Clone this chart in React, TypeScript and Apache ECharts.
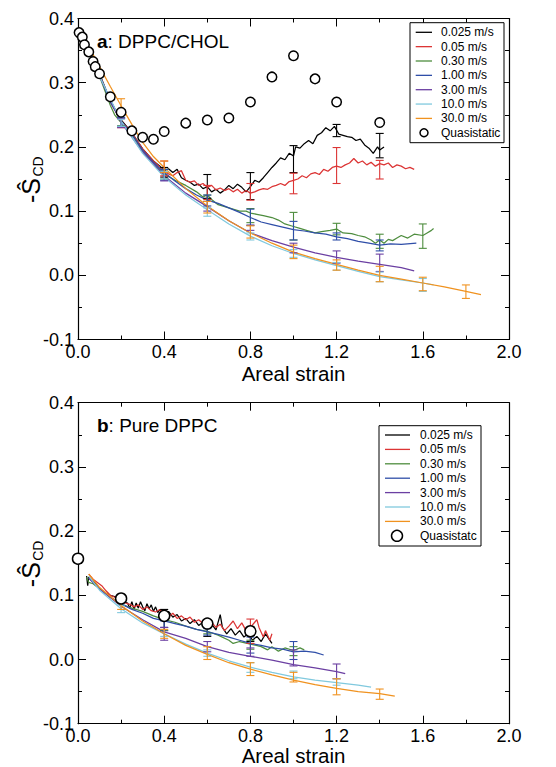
import React, { useEffect, useRef } from "react";
import * as echarts from "echarts";

const FONT = '"Liberation Sans", Arial, Helvetica, sans-serif';

const speedNames = ["0.025 m/s", "0.05 m/s", "0.30 m/s", "1.00 m/s", "3.00 m/s", "10.0 m/s", "30.0 m/s"];
const colors = ["#000000", "#dc3535", "#4e8d3e", "#2f4ea8", "#6b3fa2", "#80c9de", "#f0921f"];
const xTicks = [0, 0.4, 0.8, 1.2, 1.6, 2.0];
const yTicks = [-0.1, 0.0, 0.1, 0.2, 0.3, 0.4];

// ---------- Panel a: DPPC/CHOL ----------
const aQuasi = [
  [0.005, 0.378], [0.02, 0.371], [0.03, 0.359], [0.05, 0.348], [0.07, 0.333], [0.08, 0.325],
  [0.1, 0.314], [0.15, 0.278], [0.2, 0.254], [0.25, 0.225], [0.3, 0.215], [0.35, 0.212],
  [0.4, 0.224], [0.5, 0.237], [0.6, 0.242], [0.7, 0.245], [0.8, 0.27], [0.9, 0.309],
  [1.0, 0.342], [1.1, 0.306], [1.2, 0.27], [1.4, 0.238],
];
const aBlack = [
  [0.05, 0.35], [0.1, 0.314], [0.15, 0.272], [0.2, 0.242], [0.25, 0.222], [0.3, 0.197], [0.35, 0.178],
  [0.38, 0.17], [0.4, 0.163], [0.42, 0.166], [0.44, 0.16], [0.46, 0.165], [0.48, 0.152], [0.5, 0.148],
  [0.52, 0.145], [0.54, 0.14], [0.56, 0.142], [0.58, 0.135], [0.6, 0.138], [0.62, 0.13], [0.64, 0.134],
  [0.66, 0.128], [0.68, 0.133], [0.7, 0.14], [0.72, 0.135], [0.74, 0.142], [0.76, 0.137], [0.78, 0.13],
  [0.8, 0.138], [0.82, 0.148], [0.84, 0.145], [0.86, 0.152], [0.88, 0.16], [0.9, 0.168], [0.92, 0.175],
  [0.94, 0.183], [0.96, 0.18], [0.98, 0.19], [1.0, 0.186], [1.01, 0.2], [1.03, 0.198], [1.05, 0.205],
  [1.07, 0.21], [1.09, 0.205], [1.11, 0.218], [1.13, 0.222], [1.15, 0.23], [1.17, 0.225], [1.19, 0.232],
  [1.21, 0.22], [1.23, 0.218], [1.25, 0.216], [1.27, 0.215], [1.29, 0.21], [1.31, 0.212], [1.33, 0.203],
  [1.35, 0.198], [1.37, 0.19], [1.39, 0.2], [1.4, 0.195], [1.42, 0.2],
];
const aRed = [
  [0.05, 0.35], [0.1, 0.313], [0.15, 0.27], [0.2, 0.24], [0.25, 0.222], [0.3, 0.197], [0.35, 0.178],
  [0.4, 0.162], [0.42, 0.158], [0.44, 0.155], [0.46, 0.16], [0.48, 0.163], [0.5, 0.148], [0.52, 0.145],
  [0.54, 0.147], [0.56, 0.14], [0.58, 0.143], [0.6, 0.137], [0.62, 0.14], [0.64, 0.133], [0.66, 0.136],
  [0.68, 0.132], [0.7, 0.135], [0.72, 0.13], [0.74, 0.134], [0.76, 0.128], [0.78, 0.132], [0.8, 0.128],
  [0.82, 0.13], [0.84, 0.133], [0.86, 0.135], [0.88, 0.134], [0.9, 0.138], [0.92, 0.14], [0.94, 0.143],
  [0.96, 0.14], [0.98, 0.146], [1.0, 0.148], [1.02, 0.15], [1.04, 0.155], [1.06, 0.152], [1.08, 0.158],
  [1.1, 0.16], [1.12, 0.157], [1.14, 0.165], [1.16, 0.162], [1.18, 0.168], [1.2, 0.17], [1.22, 0.168],
  [1.24, 0.172], [1.26, 0.175], [1.28, 0.182], [1.3, 0.175], [1.32, 0.178], [1.34, 0.172], [1.36, 0.176],
  [1.38, 0.17], [1.4, 0.174], [1.42, 0.172], [1.44, 0.175], [1.46, 0.168], [1.48, 0.172], [1.5, 0.17],
  [1.52, 0.166], [1.54, 0.168], [1.56, 0.165],
];
const aGreen = [
  [0.05, 0.345], [0.1, 0.31], [0.15, 0.265], [0.17, 0.25], [0.2, 0.238], [0.25, 0.22], [0.3, 0.193],
  [0.35, 0.175], [0.4, 0.158], [0.45, 0.148], [0.5, 0.14], [0.55, 0.13], [0.58, 0.122], [0.6, 0.125],
  [0.62, 0.118], [0.65, 0.11], [0.7, 0.105], [0.75, 0.1], [0.78, 0.1], [0.8, 0.097], [0.83, 0.095],
  [0.86, 0.093], [0.9, 0.09], [0.93, 0.086], [0.96, 0.08], [1.0, 0.076], [1.03, 0.073], [1.06, 0.07],
  [1.1, 0.066], [1.13, 0.068], [1.17, 0.07], [1.2, 0.072], [1.23, 0.066], [1.27, 0.065], [1.3, 0.062],
  [1.33, 0.06], [1.36, 0.055], [1.38, 0.05], [1.4, 0.055], [1.42, 0.05], [1.44, 0.056], [1.46, 0.054],
  [1.48, 0.058], [1.5, 0.062], [1.53, 0.058], [1.56, 0.064], [1.6, 0.062], [1.62, 0.066], [1.64, 0.07],
  [1.65, 0.073],
];
const aBlue = [
  [0.05, 0.348], [0.1, 0.312], [0.15, 0.27], [0.2, 0.24], [0.25, 0.22], [0.3, 0.195], [0.35, 0.176],
  [0.4, 0.16], [0.45, 0.147], [0.5, 0.135], [0.55, 0.125], [0.6, 0.117], [0.65, 0.112], [0.7, 0.105],
  [0.75, 0.098], [0.8, 0.09], [0.85, 0.083], [0.9, 0.079], [0.95, 0.075], [1.0, 0.071], [1.05, 0.069],
  [1.1, 0.066], [1.15, 0.064], [1.2, 0.06], [1.25, 0.057], [1.3, 0.053], [1.35, 0.05], [1.4, 0.047],
  [1.45, 0.049], [1.5, 0.048], [1.57, 0.05],
];
const aPurple = [
  [0.05, 0.348], [0.1, 0.31], [0.2, 0.238], [0.3, 0.192], [0.4, 0.155], [0.5, 0.128], [0.6, 0.107],
  [0.7, 0.085], [0.8, 0.066], [0.9, 0.054], [1.0, 0.044], [1.1, 0.035], [1.2, 0.028], [1.3, 0.022],
  [1.4, 0.017], [1.5, 0.012], [1.56, 0.007],
];
const aCyan = [
  [0.05, 0.345], [0.1, 0.31], [0.2, 0.24], [0.3, 0.19], [0.4, 0.153], [0.5, 0.125], [0.6, 0.102],
  [0.7, 0.08], [0.8, 0.061], [0.9, 0.046], [1.0, 0.034], [1.1, 0.024], [1.2, 0.015], [1.3, 0.006],
  [1.4, -0.002], [1.5, -0.007], [1.6, -0.012], [1.65, -0.015],
];
const aOrange = [
  [0.06, 0.35], [0.1, 0.325], [0.15, 0.294], [0.2, 0.264], [0.25, 0.235], [0.3, 0.207], [0.35, 0.185],
  [0.4, 0.168], [0.5, 0.135], [0.6, 0.108], [0.7, 0.085], [0.8, 0.066], [0.9, 0.05], [1.0, 0.036],
  [1.1, 0.026], [1.2, 0.017], [1.3, 0.008], [1.4, 0.0], [1.5, -0.006], [1.6, -0.012], [1.7, -0.018],
  [1.8, -0.025], [1.87, -0.03],
];
const aErrBlack = [[0.4, 0.153, 0.168], [0.6, 0.12, 0.157], [0.8, 0.118, 0.16], [1.0, 0.16, 0.202], [1.2, 0.216, 0.235], [1.4, 0.183, 0.221]];
const aErrRed = [[0.2, 0.23, 0.245], [0.4, 0.155, 0.178], [0.6, 0.118, 0.14], [0.8, 0.117, 0.143], [1.0, 0.127, 0.159], [1.2, 0.143, 0.199], [1.4, 0.15, 0.179]];
const aErrGreen = [[0.2, 0.233, 0.245], [0.4, 0.15, 0.165], [0.6, 0.115, 0.125], [0.8, 0.082, 0.104], [1.0, 0.055, 0.098], [1.2, 0.063, 0.081], [1.4, 0.042, 0.064], [1.6, 0.042, 0.08]];
const aErrBlue = [[0.2, 0.232, 0.246], [0.4, 0.148, 0.165], [0.6, 0.108, 0.125], [0.8, 0.078, 0.103], [1.0, 0.055, 0.084], [1.2, 0.055, 0.066], [1.4, 0.038, 0.055]];
const aErrPurple = [[0.2, 0.23, 0.244], [0.4, 0.147, 0.16], [0.6, 0.1, 0.115], [0.8, 0.07, 0.078], [1.0, 0.035, 0.05], [1.2, 0.019, 0.038], [1.4, 0.006, 0.033]];
const aErrCyan = [[0.2, 0.232, 0.243], [0.4, 0.15, 0.162], [0.6, 0.092, 0.105], [0.8, 0.055, 0.066], [1.0, 0.028, 0.04], [1.2, 0.008, 0.02], [1.4, -0.01, 0.005], [1.6, -0.025, -0.005]];
const aErrOrange = [[0.2, 0.255, 0.275], [0.4, 0.16, 0.178], [0.6, 0.097, 0.115], [0.8, 0.058, 0.077], [1.0, 0.026, 0.047], [1.2, 0.008, 0.024], [1.4, -0.01, 0.014], [1.6, -0.024, -0.003], [1.8, -0.036, -0.015]];

// ---------- Panel b: Pure DPPC ----------
const bQuasi = [[0.0, 0.157], [0.2, 0.095], [0.4, 0.068], [0.6, 0.056], [0.8, 0.044]];
const bBlack = [
  [0.04, 0.13], [0.045, 0.115], [0.05, 0.128], [0.07, 0.122], [0.09, 0.115], [0.11, 0.108], [0.13, 0.103],
  [0.15, 0.1], [0.17, 0.098], [0.19, 0.094], [0.21, 0.09], [0.23, 0.088], [0.24, 0.08], [0.25, 0.09],
  [0.26, 0.078], [0.27, 0.088], [0.28, 0.08], [0.29, 0.09], [0.3, 0.082], [0.31, 0.076], [0.32, 0.087],
  [0.33, 0.079], [0.34, 0.085], [0.35, 0.075], [0.36, 0.082], [0.37, 0.073], [0.38, 0.078], [0.4, 0.068],
  [0.42, 0.075], [0.44, 0.066], [0.46, 0.07], [0.48, 0.06], [0.5, 0.064], [0.52, 0.056], [0.54, 0.062],
  [0.56, 0.053], [0.58, 0.058], [0.6, 0.048], [0.62, 0.055], [0.64, 0.046], [0.66, 0.07], [0.67, 0.05],
  [0.69, 0.04], [0.71, 0.048], [0.73, 0.038], [0.75, 0.045], [0.77, 0.035], [0.79, 0.04], [0.81, 0.03],
  [0.83, 0.036], [0.85, 0.028], [0.87, 0.04], [0.9, 0.025],
];
const bRed = [
  [0.05, 0.133], [0.07, 0.125], [0.09, 0.12], [0.11, 0.115], [0.13, 0.107], [0.15, 0.1], [0.17, 0.097],
  [0.2, 0.093], [0.22, 0.088], [0.24, 0.086], [0.26, 0.082], [0.28, 0.085], [0.3, 0.078], [0.32, 0.082],
  [0.34, 0.076], [0.36, 0.074], [0.38, 0.078], [0.4, 0.07], [0.42, 0.066], [0.44, 0.072], [0.46, 0.064],
  [0.48, 0.068], [0.5, 0.062], [0.52, 0.066], [0.54, 0.058], [0.56, 0.062], [0.58, 0.056], [0.6, 0.053],
  [0.62, 0.058], [0.64, 0.05], [0.66, 0.055], [0.68, 0.045], [0.7, 0.052], [0.72, 0.06], [0.74, 0.048],
  [0.76, 0.057], [0.78, 0.045], [0.8, 0.05], [0.82, 0.058], [0.83, 0.062], [0.84, 0.05], [0.86, 0.035],
  [0.87, 0.045], [0.89, 0.03], [0.9, 0.04],
];
const bGreen = [
  [0.04, 0.128], [0.05, 0.12], [0.07, 0.118], [0.1, 0.11], [0.15, 0.097], [0.2, 0.086], [0.25, 0.08],
  [0.3, 0.075], [0.35, 0.068], [0.4, 0.062], [0.45, 0.058], [0.5, 0.052], [0.55, 0.047], [0.6, 0.044],
  [0.65, 0.038], [0.7, 0.03], [0.72, 0.025], [0.75, 0.028], [0.8, 0.024], [0.85, 0.02], [0.88, 0.015],
  [0.9, 0.02], [0.93, 0.013], [0.96, 0.018], [1.0, 0.014], [1.03, 0.018], [1.05, 0.015],
];
const bBlue = [
  [0.05, 0.127], [0.1, 0.11], [0.15, 0.097], [0.2, 0.087], [0.25, 0.078], [0.3, 0.072], [0.35, 0.064],
  [0.4, 0.06], [0.45, 0.056], [0.5, 0.052], [0.55, 0.047], [0.6, 0.043], [0.65, 0.039], [0.7, 0.035],
  [0.75, 0.03], [0.8, 0.025], [0.85, 0.022], [0.9, 0.018], [0.95, 0.016], [1.0, 0.012], [1.05, 0.013],
  [1.1, 0.011], [1.14, 0.007],
];
const bPurple = [
  [0.05, 0.127], [0.1, 0.11], [0.2, 0.083], [0.3, 0.062], [0.4, 0.043], [0.5, 0.033], [0.6, 0.02],
  [0.7, 0.011], [0.8, 0.005], [0.9, -0.001], [1.0, -0.008], [1.1, -0.013], [1.2, -0.019], [1.24, -0.022],
];
const bCyan = [
  [0.05, 0.13], [0.1, 0.108], [0.2, 0.079], [0.3, 0.057], [0.4, 0.04], [0.5, 0.024], [0.6, 0.01],
  [0.7, -0.002], [0.8, -0.012], [0.9, -0.02], [1.0, -0.027], [1.1, -0.032], [1.2, -0.036], [1.3, -0.04],
  [1.36, -0.043],
];
const bOrange = [
  [0.05, 0.133], [0.1, 0.112], [0.2, 0.084], [0.3, 0.06], [0.4, 0.04], [0.5, 0.022], [0.6, 0.008],
  [0.7, -0.005], [0.8, -0.015], [0.9, -0.024], [1.0, -0.032], [1.1, -0.039], [1.2, -0.045], [1.3, -0.05],
  [1.4, -0.053], [1.47, -0.057],
];
const bErrBlack = [[0.4, 0.045, 0.078], [0.6, 0.036, 0.05], [0.8, 0.028, 0.042]];
const bErrRed = [[0.8, 0.025, 0.063]];
const bErrGreen = [[0.6, 0.04, 0.05], [0.8, 0.016, 0.03], [1.0, 0.006, 0.02]];
const bErrBlue = [[0.4, 0.05, 0.06], [0.6, 0.038, 0.048], [0.8, 0.01, 0.035], [1.0, 0.0, 0.028]];
const bErrPurple = [[0.4, 0.03, 0.05], [0.6, 0.012, 0.028], [0.8, 0.005, 0.018], [1.0, -0.01, 0.015], [1.2, -0.03, -0.007]];
const bErrCyan = [[0.2, 0.073, 0.085], [0.4, 0.036, 0.046], [0.6, 0.005, 0.015], [0.8, -0.02, -0.005], [1.0, -0.03, -0.018], [1.2, -0.04, -0.03]];
const bErrOrange = [[0.2, 0.078, 0.09], [0.4, 0.033, 0.047], [0.6, 0.0, 0.02], [0.8, -0.025, -0.005], [1.0, -0.035, -0.02], [1.2, -0.055, -0.03], [1.4, -0.062, -0.046]];

const aLines = [aBlack, aRed, aGreen, aBlue, aPurple, aCyan, aOrange];
const aErrs = [aErrBlack, aErrRed, aErrGreen, aErrBlue, aErrPurple, aErrCyan, aErrOrange];
const bLines = [bBlack, bRed, bGreen, bBlue, bPurple, bCyan, bOrange];
const bErrs = [bErrBlack, bErrRed, bErrGreen, bErrBlue, bErrPurple, bErrCyan, bErrOrange];

const GRID_LEFT = 78;
const GRID_W = 431;
const GRID_H = 321;
const TOP_A = 18.5;
const TOP_B = 402.7;

function makeX(gi: number, top: boolean) {
  return {
    type: "value",
    gridIndex: gi,
    position: top ? "top" : "bottom",
    min: xTicks[0],
    max: xTicks[xTicks.length - 1],
    interval: 0.4,
    axisLine: { show: true, onZero: false, lineStyle: { color: "#000", width: 1.2 } },
    axisTick: { show: true, inside: true, length: 8, lineStyle: { color: "#000", width: 1 } },
    minorTick: { show: true, splitNumber: 2, length: 4, lineStyle: { color: "#000", width: 1 } },
    splitLine: { show: false },
    axisLabel: {
      show: !top,
      margin: 4,
      lineHeight: 16,
      color: "#000",
      fontSize: 18,
      fontFamily: FONT,
      formatter: (v: number) => v.toFixed(1),
    },
  };
}

function makeY(gi: number, right: boolean) {
  return {
    type: "value",
    gridIndex: gi,
    position: right ? "right" : "left",
    min: yTicks[0],
    max: yTicks[yTicks.length - 1],
    interval: 0.1,
    axisLine: { show: true, onZero: false, lineStyle: { color: "#000", width: 1.2 } },
    axisTick: { show: true, inside: true, length: 8, lineStyle: { color: "#000", width: 1 } },
    minorTick: { show: true, splitNumber: 2, length: 4, lineStyle: { color: "#000", width: 1 } },
    splitLine: { show: false },
    axisLabel: {
      show: !right,
      margin: 4,
      color: "#000",
      fontSize: 18,
      fontFamily: FONT,
      formatter: (v: number) => v.toFixed(1),
    },
  };
}

function errSeries(name: string, data: number[][], color: string, gi: number) {
  return {
    name,
    type: "custom",
    xAxisIndex: gi * 2,
    yAxisIndex: gi * 2,
    data,
    encode: { x: 0, y: [1, 2] },
    z: 4,
    renderItem: (_params: any, api: any) => {
      const x = api.value(0);
      const p1 = api.coord([x, api.value(1)]);
      const p2 = api.coord([x, api.value(2)]);
      const w = 4;
      const st = { stroke: color, lineWidth: 1.1 };
      return {
        type: "group",
        children: [
          { type: "line", shape: { x1: p1[0], y1: p1[1], x2: p2[0], y2: p2[1] }, style: st },
          { type: "line", shape: { x1: p1[0] - w, y1: p1[1], x2: p1[0] + w, y2: p1[1] }, style: st },
          { type: "line", shape: { x1: p2[0] - w, y1: p2[1], x2: p2[0] + w, y2: p2[1] }, style: st },
        ],
      };
    },
  };
}

function lineSeries(name: string, data: number[][], color: string, gi: number) {
  return {
    name,
    type: "line",
    xAxisIndex: gi * 2,
    yAxisIndex: gi * 2,
    data,
    showSymbol: false,
    symbol: "none",
    lineStyle: { color, width: 1.25 },
    itemStyle: { color },
    z: 3,
  };
}

function legendGraphics(
  x0: number, y0: number, w: number, h: number, firstY: number, step: number,
  lineX1: number, lineX2: number, textX: number, circleX: number, r: number, quasiName: string
) {
  const els: any[] = [
    { type: "rect", shape: { x: x0, y: y0, width: w, height: h }, style: { fill: "#fff", stroke: "#000", lineWidth: 1 }, z: 10 },
  ];
  speedNames.forEach((n, i) => {
    const y = firstY + i * step;
    els.push({ type: "line", shape: { x1: lineX1, y1: y, x2: lineX2, y2: y }, style: { stroke: colors[i], lineWidth: 1.3 }, z: 11 });
    els.push({ type: "text", x: textX, y, style: { text: n, fontSize: 12, fontFamily: FONT, fill: "#000", align: "left", verticalAlign: "middle" }, z: 11 });
  });
  const yq = firstY + 7 * step;
  els.push({ type: "circle", shape: { cx: circleX, cy: yq, r }, style: { fill: "#fff", stroke: "#000", lineWidth: 1.5 }, z: 11 });
  els.push({ type: "text", x: textX, y: yq, style: { text: quasiName, fontSize: 12, fontFamily: FONT, fill: "#000", align: "left", verticalAlign: "middle" }, z: 11 });
  return els;
}

function panelTexts(top: number, label: string, title: string, nameOffset: number) {
  return [
    {
      type: "text",
      x: 97,
      y: top + 22.5,
      style: {
        text: `{b|${label}}: ${title}`,
        fontSize: 19,
        fontFamily: FONT,
        fill: "#000",
        align: "left",
        verticalAlign: "middle",
        rich: { b: { fontWeight: "bold", fontSize: 19, fontFamily: FONT } },
      },
    },
    {
      type: "text",
      x: GRID_LEFT + GRID_W / 2,
      y: top + nameOffset,
      style: { text: "Areal strain", fontSize: 20.5, fontFamily: FONT, fill: "#000", align: "center", verticalAlign: "middle" },
    },
    {
      type: "text",
      x: 31,
      y: top + 172,
      rotation: Math.PI / 2,
      style: { text: "-Ŝ", fontSize: 25, fontFamily: FONT, fill: "#000", align: "center", verticalAlign: "middle" },
    },
    {
      type: "text",
      x: 38,
      y: top + 148,
      rotation: Math.PI / 2,
      style: { text: "CD", fontSize: 14, fontFamily: FONT, fill: "#000", align: "center", verticalAlign: "middle" },
    },
  ];
}

export default function App() {
  const ref = useRef<HTMLDivElement>(null);
  useEffect(() => {
    document.body.style.margin = "0";
    if (!ref.current) return;
    const chart = echarts.init(ref.current, undefined, { renderer: "svg" });
    const series: any[] = [];
    [0, 1].forEach((gi) => {
      const lines = gi === 0 ? aLines : bLines;
      const errs = gi === 0 ? aErrs : bErrs;
      speedNames.forEach((n, i) => {
        series.push(lineSeries(n, lines[i], colors[i], gi));
        series.push(errSeries(n + " err", errs[i], colors[i], gi));
      });
      series.push({
        name: gi === 0 ? "Quasistatic" : "Quasistatc",
        type: "scatter",
        xAxisIndex: gi * 2,
        yAxisIndex: gi * 2,
        data: gi === 0 ? aQuasi : bQuasi,
        symbol: "circle",
        symbolSize: gi === 0 ? 9.5 : 11,
        itemStyle: { color: "#fff", borderColor: "#000", borderWidth: 1.5, opacity: 1 },
        z: 6,
      });
    });
    chart.setOption({
      animation: false,
      backgroundColor: "#fff",
      textStyle: { fontFamily: FONT },
      grid: [
        { left: GRID_LEFT, top: TOP_A, width: GRID_W, height: GRID_H, containLabel: false },
        { left: GRID_LEFT, top: TOP_B, width: GRID_W, height: GRID_H, containLabel: false },
      ],
      xAxis: [makeX(0, false), makeX(0, true), makeX(1, false), makeX(1, true)],
      yAxis: [makeY(0, false), makeY(0, true), makeY(1, false), makeY(1, true)],
      series,
      graphic: [
        ...panelTexts(TOP_A, "a", "DPPC/CHOL", 355),
        ...panelTexts(TOP_B, "b", "Pure DPPC", 352.5),
        ...legendGraphics(410, 22.7, 94, 120, 32.3, 14.35, 415.7, 432, 441, 424, 4, "Quasistatic"),
        ...legendGraphics(379, 425.7, 102, 120.3, 435, 14.4, 385, 410, 420, 397, 5.5, "Quasistatc"),
      ],
    });
    return () => chart.dispose();
  }, []);
  return <div ref={ref} style={{ width: 556, height: 767 }} />;
}
